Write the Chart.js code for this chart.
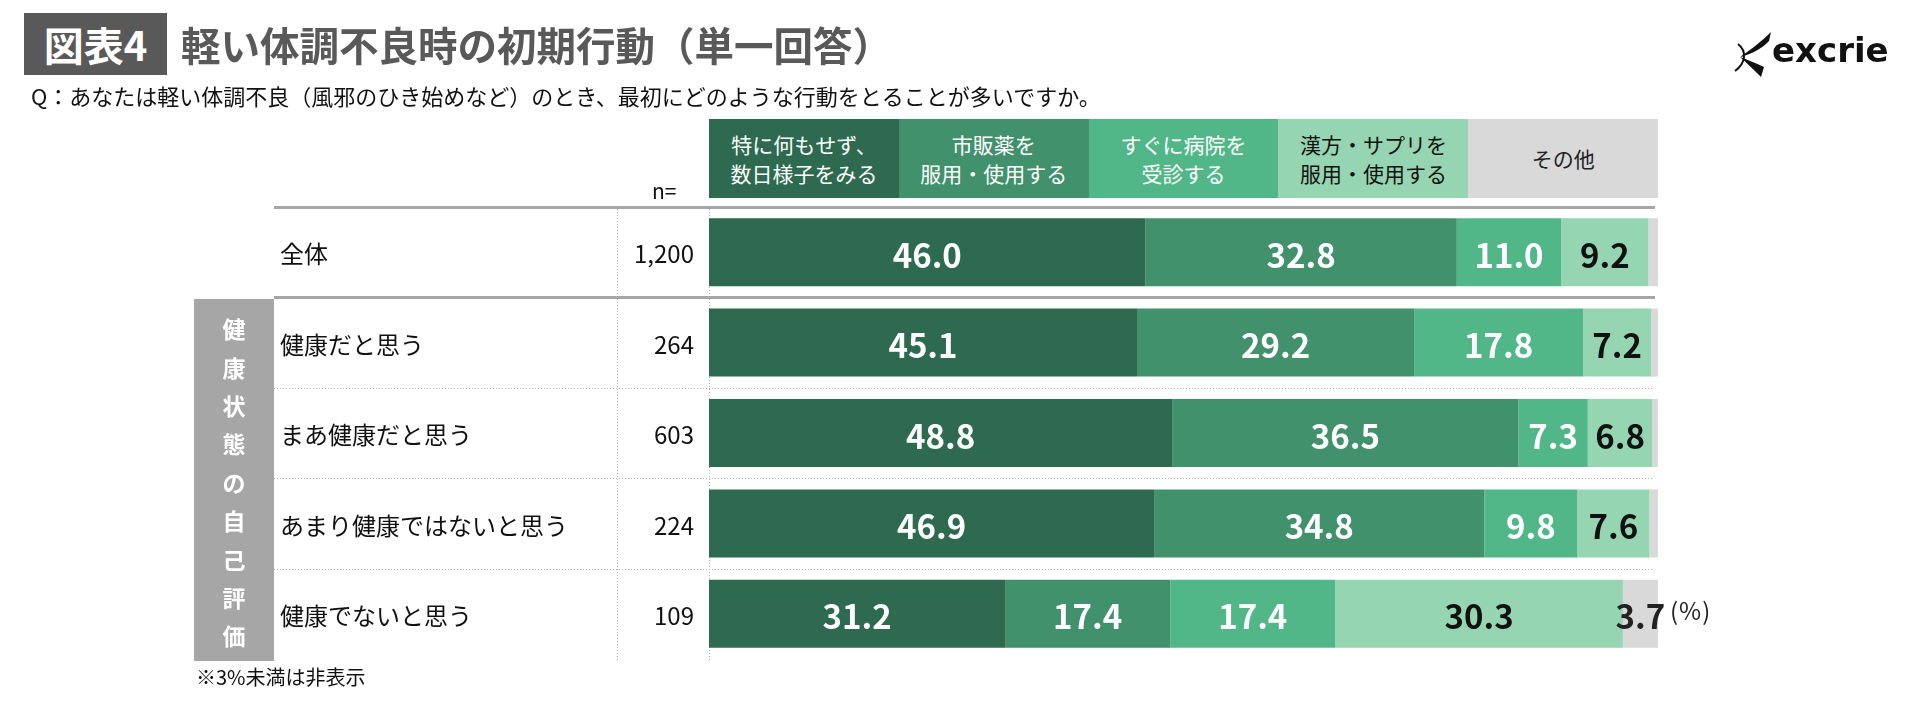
<!DOCTYPE html>
<html lang="ja">
<head>
<meta charset="utf-8">
<title>軽い体調不良時の初期行動</title>
<script src="https://cdn.jsdelivr.net/npm/chart.js@4"></script>
<style>
  html, body { margin: 0; padding: 0; background: #fff; }
  body { width: 1919px; height: 710px; position: relative; overflow: hidden;
         font-family: "Noto Sans CJK JP", "Noto Sans", sans-serif; }
  #chart { position: absolute; left: 0; top: 0; }
  .abs { position: absolute; white-space: nowrap; }
  #tbox { left: 24px; top: 13px; width: 143px; height: 62px; background: #595959; color: #fff;
          font-weight: bold; font-size: 40px; display: flex; align-items: center; justify-content: center; }
  #title { left: 181px; top: 14px; height: 60px; line-height: 60px; font-weight: bold; font-size: 39.5px; color: #595959; }
  #q { left: 31px; top: 80px; line-height: 30px; font-size: 22px; color: #111; }
  #note { left: 196px; top: 664px; line-height: 26px; font-size: 20px; color: #111; }
  #pct { left: 1670px; top: 595px; line-height: 30px; font-size: 24px; color: #222; letter-spacing: 1px; }
  #logo { left: 1732px; top: 30px; }
  #logo svg { position: absolute; left: 0; top: 0; }
  #logo span { position: absolute; left: 40px; top: 0px; font-family: "DejaVu Sans", sans-serif;
               font-weight: bold; font-size: 34px; color: #111; }
  .head { position: absolute; top: 119px; height: 79px; display: flex; align-items: center; justify-content: center;
          text-align: center; font-size: 21px; line-height: 29px; }
</style>
</head>
<body>
<canvas id="chart" width="1919" height="710"></canvas>

<div class="abs" id="tbox">図表4</div>
<div class="abs" id="title">軽い体調不良時の初期行動（単一回答）</div>
<div class="abs" id="q">Q：あなたは軽い体調不良（風邪のひき始めなど）のとき、最初にどのような行動をとることが多いですか。</div>
<div class="abs" id="note">※3%未満は非表示</div>
<div class="abs" id="pct">(%)</div>
<div class="abs" id="logo">
  <svg width="40" height="48" viewBox="0 0 40 48">
    <path d="M39 2 C31 10 20 19 8 27 C20 24 31 18 37 11 Z" fill="#111"/>
    <path d="M8 27 C15 33 22 40 29 47 L32 37 C24 33 16 30 8 27 Z" fill="#111"/>
    <path d="M6 14 C15 21 14 33 3 41" fill="none" stroke="#111" stroke-width="2"/>
  </svg>
  <span>excrie</span>
</div>
<div id="heads"></div>

<script>
// 軽い体調不良時の初期行動 — 積み上げ横棒

const categories = ['全体', '健康だと思う', 'まあ健康だと思う', 'あまり健康ではないと思う', '健康でないと思う'];
const sampleSizes = ['1,200', '264', '603', '224', '109'];
const seriesNames = [
  ['特に何もせず、', '数日様子をみる'],
  ['市販薬を', '服用・使用する'],
  ['すぐに病院を', '受診する'],
  ['漢方・サプリを', '服用・使用する'],
  ['その他'],
];
const doNothing = [46.0, 45.1, 48.8, 46.9, 31.2];
const otcMedicine = [32.8, 29.2, 36.5, 34.8, 17.4];
const seeDoctor = [11.0, 17.8, 7.3, 9.8, 17.4];
const kampoSupplement = [9.2, 7.2, 6.8, 7.6, 30.3];
const otherAction = [1.0, 0.7, 0.6, 0.9, 3.7];
const groupLabel = '健康状態の自己評価';

const COLORS = ['#2d6a4f', '#40916c', '#52b788', '#95d5b2', '#d9d9d9'];
const TEXT_COLORS = ['#fff', '#fff', '#fff', '#111', '#222'];
const FONT = '"Noto Sans CJK JP", "Noto Sans", sans-serif';
const HIDE_BELOW = 3;

/* ---------- cabecera de columnas (HTML) ---------- */
const AREA_LEFT = 709, AREA_RIGHT = 1658;
(function buildHeads() {
  const box = document.getElementById('heads');
  const w = (AREA_RIGHT - AREA_LEFT) / seriesNames.length;
  seriesNames.forEach((lines, i) => {
    const d = document.createElement('div');
    d.className = 'head';
    d.style.left = (AREA_LEFT + i * w) + 'px';
    d.style.width = Math.ceil(w) + 'px';
    d.style.background = COLORS[i];
    d.style.color = TEXT_COLORS[i];
    d.innerHTML = lines.join('<br>');
    box.appendChild(d);
  });
  const n = document.createElement('div');
  n.className = 'abs';
  n.style.cssText = 'left:652px;top:176px;font-size:21px;line-height:28px;color:#111;';
  n.textContent = 'n=';
  box.appendChild(n);
})();

/* ---------- plugin: líneas de tabla, etiquetas de fila y n ---------- */
const tablePlugin = {
  id: 'tablePlugin',
  beforeDatasetsDraw(chart) {
    const { ctx, chartArea: a, scales: { y } } = chart;
    const band = (a.bottom - a.top) / categories.length;
    ctx.save();
    // líneas verticales punteadas
    ctx.strokeStyle = '#b4b4b4';
    ctx.lineWidth = 1;
    ctx.setLineDash([1, 2]);
    [617.5, a.left + 0.5].forEach(x => {
      ctx.beginPath(); ctx.moveTo(x, a.top + 2); ctx.lineTo(x, a.bottom + 2); ctx.stroke();
    });
    // separadores de fila
    for (let i = 2; i < categories.length; i++) {
      const yy = Math.round(a.top + i * band) + 0.5;
      ctx.beginPath(); ctx.moveTo(274, yy); ctx.lineTo(a.right - 4, yy); ctx.stroke();
    }
    ctx.setLineDash([]);
    ctx.strokeStyle = '#a6a6a6';
    ctx.lineWidth = 3;
    [a.top, a.top + band].forEach(v => {
      const yy = Math.round(v) + 0.5;
      ctx.beginPath(); ctx.moveTo(274, yy); ctx.lineTo(a.right - 3, yy); ctx.stroke();
    });
    // caja del grupo
    const gTop = Math.round(a.top + band) + 2;
    const gBot = a.bottom + 2;
    ctx.fillStyle = '#a6a6a6';
    ctx.fillRect(194, gTop, 80, gBot - gTop);
    ctx.fillStyle = '#fff';
    ctx.font = 'bold 23px ' + FONT;
    ctx.textAlign = 'center';
    ctx.textBaseline = 'middle';
    const step = 38.4;
    const mid = (gTop + gBot) / 2 + 3;
    [...groupLabel].forEach((ch, i) => {
      ctx.fillText(ch, 234, mid + (i - (groupLabel.length - 1) / 2) * step);
    });
    // etiquetas de fila y n
    ctx.fillStyle = '#111';
    ctx.font = '24px ' + FONT;
    categories.forEach((c, i) => {
      const yy = y.getPixelForValue(i) + 2;
      ctx.textAlign = 'left';
      ctx.fillText(c, 280, yy);
      ctx.textAlign = 'right';
      ctx.fillText(sampleSizes[i], 694, yy);
    });
    ctx.restore();
  },
  afterDatasetsDraw(chart) {
    const { ctx } = chart;
    ctx.save();
    ctx.font = 'bold 33px ' + FONT;
    ctx.textAlign = 'center';
    ctx.textBaseline = 'middle';
    chart.data.datasets.forEach((ds, di) => {
      const meta = chart.getDatasetMeta(di);
      meta.data.forEach((bar, i) => {
        const v = ds.data[i];
        if (v < HIDE_BELOW) return;
        const p = bar.getCenterPoint();
        ctx.fillStyle = TEXT_COLORS[di];
        ctx.fillText(v.toFixed(1), p.x, p.y + 3);
      });
    });
    ctx.restore();
  },
};

const seriesValues = [doNothing, otcMedicine, seeDoctor, kampoSupplement, otherAction];

new Chart(document.getElementById('chart'), {
  type: 'bar',
  data: {
    labels: categories,
    datasets: seriesValues.map((vals, i) => ({
      label: seriesNames[i].join(''),
      data: vals,
      backgroundColor: COLORS[i],
      borderWidth: 0,
      barPercentage: 0.752,
      categoryPercentage: 1,
    })),
  },
  options: {
    indexAxis: 'y',
    responsive: false,
    devicePixelRatio: 1,
    animation: false,
    layout: { padding: { left: AREA_LEFT, right: 1919 - AREA_RIGHT, top: 207, bottom: 51 } },
    scales: {
      x: { stacked: true, min: 0, max: 100, display: false },
      y: { stacked: true, display: false },
    },
    plugins: { legend: { display: false }, tooltip: { enabled: false } },
  },
  plugins: [tablePlugin],
});
</script>
</body>
</html>
